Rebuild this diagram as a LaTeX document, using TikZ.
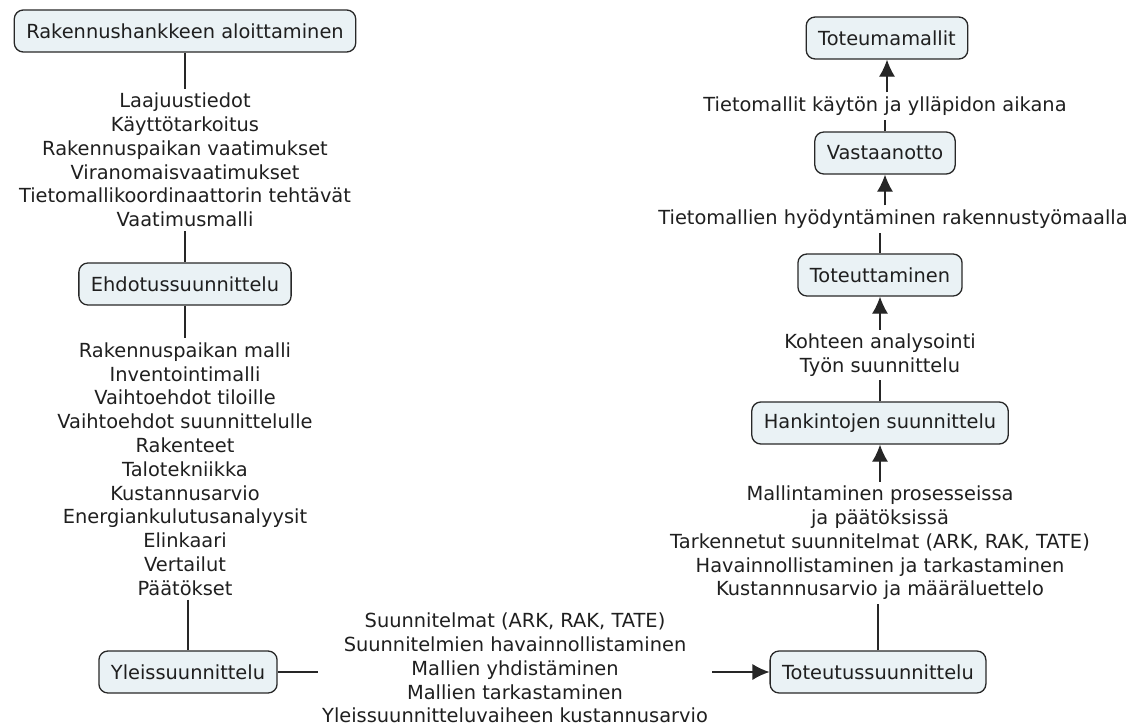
\documentclass[tikz,border=0pt]{standalone}
\usepackage{fontspec}
\setmainfont{DejaVu Sans}
\usetikzlibrary{arrows.meta,positioning}
\definecolor{conceptfill}{RGB}{234,242,245}
\definecolor{conceptline}{RGB}{40,40,40}

\begin{document}
\begin{tikzpicture}[x=1pt,y=-1pt,>={Latex[length=17pt,width=16pt]},
		every node/.append style={font=\fontsize{19.4}{23.8}\selectfont,text=black!88},
		concept/.style={draw=conceptline,fill=conceptfill,line width=1.3pt,rounded corners=9pt,inner xsep=12pt,minimum height=42pt},
		phrase/.style={align=center,inner sep=4pt},
		link/.style={line width=1.3pt,draw=black!85}]
		\useasboundingbox (0,0) rectangle (1128,728);
		% vasen haara
		\node[concept] (aloitus) at (185,31) {Rakennushankkeen aloittaminen};
		\node[phrase] (aloitus-l) at (185,160) {Laajuustiedot\\Käyttötarkoitus\\Rakennuspaikan vaatimukset\\Viranomaisvaatimukset\\Tietomallikoordinaattorin tehtävät\\Vaatimusmalli};
		\node[concept] (ehdotus) at (185,284) {Ehdotussuunnittelu};
		\node[phrase] (ehdotus-l) at (185,469) {Rakennuspaikan malli\\Inventointimalli\\Vaihtoehdot tiloille\\Vaihtoehdot suunnittelulle\\Rakenteet\\Talotekniikka\\Kustannusarvio\\Energiankulutusanalyysit\\Elinkaari\\Vertailut\\Päätökset};
		\node[concept] (yleis) at (188,672) {Yleissuunnittelu};
		\node[phrase] (yleis-l) at (515,668) {Suunnitelmat (ARK, RAK, TATE)\\Suunnitelmien havainnollistaminen\\Mallien yhdistäminen\\Mallien tarkastaminen\\Yleissuunnitteluvaiheen kustannusarvio};
		% oikea haara
		\node[concept] (totsuun) at (878,672) {Toteutussuunnittelu};
		\node[phrase] (totsuun-l) at (880,543) {Mallintaminen prosesseissa\\ja päätöksissä\\Tarkennetut suunnitelmat (ARK, RAK, TATE)\\Havainnollistaminen ja tarkastaminen\\Kustannnusarvio ja määräluettelo};
		\node[concept] (hankinta) at (880,423) {Hankintojen suunnittelu};
		\node[phrase] (hankinta-l) at (880,355) {Kohteen analysointi\\Työn suunnittelu};
		\node[concept] (toteutus) at (880,275) {Toteuttaminen};
		\node[phrase] (toteutus-l) at (893,219) {Tietomallien hyödyntäminen rakennustyömaalla};
		\node[concept] (vastaanotto) at (885,153) {Vastaanotto};
		\node[phrase] (vastaanotto-l) at (885,106) {Tietomallit käytön ja ylläpidon aikana};
		\node[concept] (toteuma) at (887,38) {Toteumamallit};

		\draw[link] (aloitus) -- (aloitus-l);
		\draw[link] (aloitus-l) -- (ehdotus);
		\draw[link] (ehdotus) -- (ehdotus-l);
		\draw[link] (ehdotus-l.south -| yleis.north) -- (yleis.north);
		\draw[link] (yleis) -- (yleis -| yleis-l.west);
		\draw[link,->] (yleis-l.east |- totsuun) -- (totsuun);
		\draw[link] (totsuun.north) -- (totsuun.north |- totsuun-l.south);
		\draw[link,->] (totsuun-l) -- (hankinta);
		\draw[link] (hankinta) -- (hankinta-l);
		\draw[link,->] (hankinta-l) -- (toteutus);
		\draw[link] (toteutus.north) -- (toteutus.north |- toteutus-l.south);
		\draw[link,->] (toteutus-l.north -| vastaanotto.south) -- (vastaanotto.south);
		\draw[link] (vastaanotto) -- (vastaanotto-l);
		\draw[link,->] (vastaanotto-l.north -| toteuma.south) -- (toteuma.south);
	\end{tikzpicture}
\end{document}
